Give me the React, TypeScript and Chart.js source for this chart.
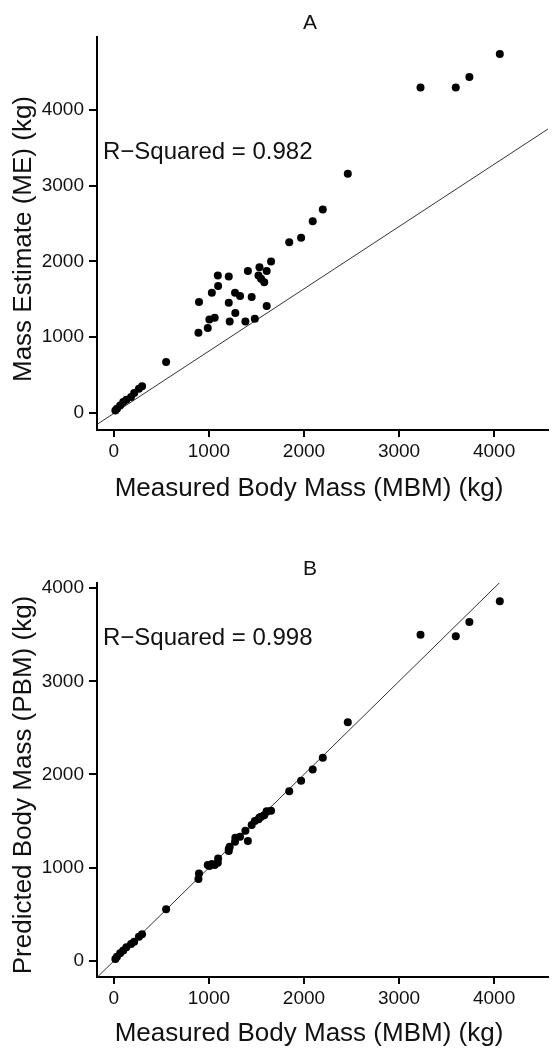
import React, { useEffect, useRef } from "react";
import { Chart, registerables } from "chart.js";

Chart.register(...registerables);

// ---- data (kg) ----
const xTickValues = [0, 1000, 2000, 3000, 4000];
const yTickValues = [0, 1000, 2000, 3000, 4000];

const measuredBodyMass = [
  16, 33, 66, 99, 132, 181, 214, 264, 297, 550,
  890, 896, 988, 1005, 1031, 1061, 1094, 1097, 1209, 1209,
  1219, 1275, 1278, 1328, 1384, 1410, 1450, 1483, 1522, 1532,
  1549, 1582, 1608, 1608, 1654, 1845, 1970, 2092, 2198, 2461,
  3226, 3597, 3740, 4060,
];

const massEstimateA = [
  35, 57, 101, 145, 176, 211, 264, 321, 352, 673,
  1059, 1464, 1121, 1235, 1587, 1257, 1815, 1675, 1802, 1455,
  1209, 1587, 1319, 1543, 1209, 1873, 1530, 1244, 1815, 1925,
  1771, 1727, 1873, 1411, 2000, 2255, 2312, 2532, 2686, 3158,
  4298, 4298, 4434, 4737,
];

const predictedBodyMassB = [
  21, 46, 82, 111, 146, 182, 207, 261, 286, 554,
  879, 939, 1029, 1018, 1040, 1029, 1054, 1100, 1179, 1200,
  1225, 1279, 1321, 1332, 1396, 1286, 1457, 1500, 1520, 1539,
  1548, 1564, 1600, 1605, 1611, 1821, 1932, 2054, 2179, 2561,
  3500, 3482, 3636, 3857,
];

const lineAX = [-200, 4600];
const lineAY = [-169, 3776];
const lineBX = [-200, 4600];
const lineBY = [-200, 4600];

const rSquaredA = "R\u2212Squared = 0.982";
const rSquaredB = "R\u2212Squared = 0.998";

const FONT = "'Liberation Sans', Arial, Helvetica, sans-serif";

type PanelProps = {
  top: number;
  height: number;
  chartTop: number;
  chartBottom: number;
  yMin: number;
  yMax: number;
  ys: number[];
  lineX: number[];
  lineY: number[];
  label: string;
  labelBaseline: number;
  rText: string;
  rBaseline: number;
  xTitle: string;
  xTitleBaseline: number;
  yTitle: string;
  yTitleCenter: number;
};

function Panel(p: PanelProps) {
  const ref = useRef<HTMLCanvasElement | null>(null);
  useEffect(() => {
    const canvas = ref.current;
    if (!canvas) return;
    const textPlugin = {
      id: "panelText",
      afterDraw(chart: any) {
        const ctx = chart.ctx as CanvasRenderingContext2D;
        ctx.save();
        ctx.fillStyle = "#111";
        ctx.textAlign = "center";
        ctx.textBaseline = "alphabetic";
        ctx.font = `21px ${FONT}`;
        ctx.fillText(p.label, 310, p.labelBaseline);
        ctx.textAlign = "left";
        ctx.font = `24px ${FONT}`;
        ctx.fillText(p.rText, 103, p.rBaseline);
        ctx.textAlign = "center";
        ctx.font = `26px ${FONT}`;
        ctx.fillText(p.xTitle, 309, p.xTitleBaseline);
        ctx.translate(24, p.yTitleCenter);
        ctx.rotate(-Math.PI / 2);
        ctx.textBaseline = "middle";
        ctx.font = `26px ${FONT}`;
        ctx.fillText(p.yTitle, 0, 0);
        ctx.restore();
      },
    };
    const tickFont = { family: FONT, size: 19 };
    const chart = new Chart(canvas, {
      type: "scatter",
      data: {
        datasets: [
          {
            type: "line",
            data: p.lineX.map((x, i) => ({ x, y: p.lineY[i] })),
            borderColor: "#333",
            borderWidth: 1,
            pointRadius: 0,
            fill: false,
            order: 2,
          } as any,
          {
            type: "scatter",
            data: measuredBodyMass.map((x, i) => ({ x, y: p.ys[i] })),
            backgroundColor: "#000",
            borderWidth: 0,
            pointRadius: 4,
            order: 1,
          },
        ],
      },
      options: {
        responsive: false,
        animation: false,
        devicePixelRatio: 1,
        layout: { padding: { top: p.chartTop, left: 0, right: 0, bottom: 0 } },
        plugins: {
          legend: { display: false },
          tooltip: { enabled: false },
          title: { display: false },
        },
        scales: {
          x: {
            type: "linear",
            min: -177,
            max: 4567,
            afterFit: (s: any) => {
              s.height = p.height - p.chartBottom;
            },
            afterBuildTicks: (s: any) => {
              s.ticks = xTickValues.map((v) => ({ value: v }));
            },
            grid: { drawOnChartArea: false, drawTicks: true, tickLength: 7, color: "#000", lineWidth: 2 },
            border: { display: true, color: "#000", width: 2 },
            ticks: {
              font: tickFont,
              color: "#111",
              padding: 3,
              maxRotation: 0,
              autoSkip: false,
              callback: (v: any) => String(v),
            },
          },
          y: {
            type: "linear",
            min: p.yMin,
            max: p.yMax,
            afterFit: (s: any) => {
              s.width = 97;
            },
            afterBuildTicks: (s: any) => {
              s.ticks = yTickValues.map((v) => ({ value: v }));
            },
            grid: { drawOnChartArea: false, drawTicks: true, tickLength: 8, color: "#000", lineWidth: 2 },
            border: { display: true, color: "#000", width: 2 },
            ticks: {
              font: tickFont,
              color: "#111",
              padding: 5,
              autoSkip: false,
              callback: (v: any) => String(v),
            },
          },
        },
      } as any,
      plugins: [textPlugin],
    });
    return () => chart.destroy();
  }, []);
  return (
    <canvas
      ref={ref}
      width={552}
      height={p.height}
      style={{ position: "absolute", left: 0, top: p.top, width: 552, height: p.height }}
    />
  );
}

export default function App() {
  return (
    <div style={{ position: "absolute", left: 0, top: 0, width: 552, height: 1050, background: "#fff" }}>
      <Panel
        top={0}
        height={530}
        chartTop={37}
        chartBottom={430}
        yMin={-224}
        yMax={4963}
        ys={massEstimateA}
        lineX={lineAX}
        lineY={lineAY}
        label="A"
        labelBaseline={29}
        rText={rSquaredA}
        rBaseline={159}
        xTitle="Measured Body Mass (MBM) (kg)"
        xTitleBaseline={496}
        yTitle="Mass Estimate (ME) (kg)"
        yTitleCenter={239}
      />
      <Panel
        top={530}
        height={520}
        chartTop={53}
        chartBottom={447}
        yMin={-172}
        yMax={4054}
        ys={predictedBodyMassB}
        lineX={lineBX}
        lineY={lineBY}
        label="B"
        labelBaseline={45}
        rText={rSquaredB}
        rBaseline={115}
        xTitle="Measured Body Mass (MBM) (kg)"
        xTitleBaseline={511}
        yTitle="Predicted Body Mass (PBM) (kg)"
        yTitleCenter={255}
      />
    </div>
  );
}
